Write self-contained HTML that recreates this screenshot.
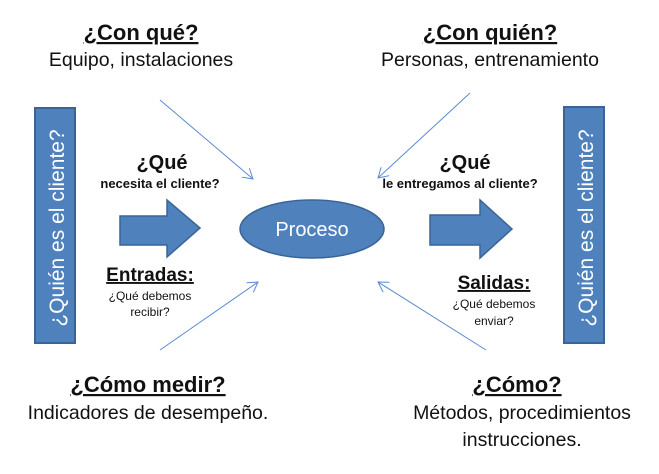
<!DOCTYPE html>
<html><head><meta charset="utf-8"><style>body{margin:0;background:#fff}svg{display:block}</style></head><body>
<svg width="659" height="474" viewBox="0 0 659 474" xmlns="http://www.w3.org/2000/svg" font-family="Liberation Sans, sans-serif">
<defs><marker id="a" markerWidth="12" markerHeight="12" refX="10" refY="6" orient="auto" markerUnits="userSpaceOnUse"><path d="M0,0 L10,6 L0,12" fill="none" stroke="#5b8ad0" stroke-width="1"/></marker></defs>
<rect x="35" y="108" width="40" height="235" fill="#4f81bd" stroke="#3a6496" stroke-width="2"/>
<rect x="564" y="107" width="40" height="236" fill="#4f81bd" stroke="#3a6496" stroke-width="2"/>
<text transform="translate(64,228) rotate(-90)" text-anchor="middle" fill="#fff" font-size="21">¿Quién es el cliente?</text>
<text transform="translate(593,228) rotate(-90)" text-anchor="middle" fill="#fff" font-size="21">¿Quién es el cliente?</text>
<path d="M120,216 H167 V200 L200,228 L167,257 V245 H120 Z" fill="#4f81bd" stroke="#3a6496" stroke-width="1.5"/>
<path d="M430,215 H480 V200 L512,229 L480,258 V245 H430 Z" fill="#4f81bd" stroke="#3a6496" stroke-width="1.5"/>
<ellipse cx="312" cy="229" rx="72" ry="29" fill="#4f81bd" stroke="#3a6496" stroke-width="1.5"/>
<text x="312" y="236" text-anchor="middle" fill="#fff" font-size="20">Proceso</text>
<g stroke="#5b8ad0" stroke-width="1" marker-end="url(#a)">
<line x1="160" y1="100" x2="253" y2="179"/>
<line x1="160" y1="350" x2="258" y2="282"/>
<line x1="470" y1="93" x2="378" y2="178"/>
<line x1="486" y1="350" x2="378" y2="282"/>
</g>
<g fill="#111" text-anchor="middle">
<text x="141" y="40" font-size="22" font-weight="bold" text-decoration="underline">¿Con qué?</text>
<text x="141" y="66" font-size="19.5">Equipo, instalaciones</text>
<text x="490" y="40" font-size="22" font-weight="bold" text-decoration="underline">¿Con quién?</text>
<text x="490" y="66" font-size="19.5">Personas, entrenamiento</text>
<text x="148" y="392" font-size="22" font-weight="bold" text-decoration="underline">¿Cómo medir?</text>
<text x="148" y="419" font-size="19.5">Indicadores de desempeño.</text>
<text x="517" y="392" font-size="22" font-weight="bold" text-decoration="underline">¿Cómo?</text>
<text x="522" y="419" font-size="19.5">Métodos, procedimientos</text>
<text x="522" y="446" font-size="19.5">instrucciones.</text>
<text x="162" y="169" font-size="20" font-weight="bold">¿Qué</text>
<text x="160" y="188" font-size="13" font-weight="bold">necesita el cliente?</text>
<text x="150" y="281" font-size="19" font-weight="bold" text-decoration="underline">Entradas:</text>
<text x="150" y="300" font-size="12">¿Qué debemos</text>
<text x="150" y="316" font-size="12">recibir?</text>
<text x="465" y="169" font-size="20" font-weight="bold">¿Qué</text>
<text x="460" y="188" font-size="13" font-weight="bold">le entregamos al cliente?</text>
<text x="494" y="289" font-size="19" font-weight="bold" text-decoration="underline">Salidas:</text>
<text x="494" y="308" font-size="12">¿Qué debemos</text>
<text x="494" y="325" font-size="12">enviar?</text>
</g>
</svg>
</body></html>
